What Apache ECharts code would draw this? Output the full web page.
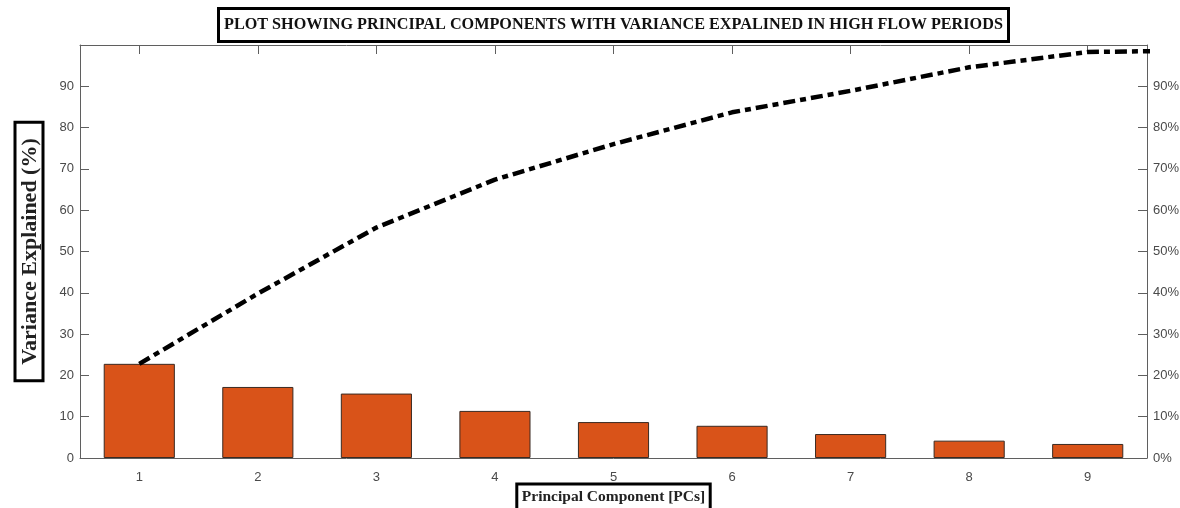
<!DOCTYPE html>
<html>
<head>
<meta charset="utf-8">
<script src="https://cdn.jsdelivr.net/npm/echarts@6/dist/echarts.min.js"></script>
<style>
  html, body { margin: 0; padding: 0; background: #fff; }
  #chart { width: 1180px; height: 508px; }
</style>
</head>
<body>
<div id="chart"></div>
<script>
// Principal components 1..9
const components = ['1', '2', '3', '4', '5', '6', '7', '8', '9'];
// Variance explained by each component (%)
const varianceExplained = [22.8, 17.2, 15.6, 11.4, 8.7, 7.8, 5.8, 4.2, 3.4];
// Cumulative variance explained (%), running past the last shown component
const cumulativeIndex = [1, 2, 3, 4, 5, 6, 7, 8, 9, 10];
const cumulativeVariance = [22.8, 39.8, 55.8, 67.4, 76.0, 83.7, 88.9, 94.6, 98.3, 98.7];
// Left and right axis tick labels
const leftTicks = [0, 10, 20, 30, 40, 50, 60, 70, 80, 90];
const rightTicks = ['0%', '10%', '20%', '30%', '40%', '50%', '60%', '70%', '80%', '90%'];

const axisGrey = '#5f5f5f';
const labelGrey = '#4a4a4a';
const sans = 'Liberation Sans, Arial, sans-serif';
const serif = 'Liberation Serif, Times New Roman, serif';

const chart = echarts.init(document.getElementById('chart'), null, { renderer: 'canvas' });

chart.setOption({
  animation: false,
  backgroundColor: '#ffffff',
  title: {
    text: 'PLOT SHOWING PRINCIPAL COMPONENTS WITH VARIANCE EXPALINED IN HIGH FLOW PERIODS',
    left: 218,
    top: 8,
    padding: [9, 6, 9, 6],
    borderColor: '#000',
    borderWidth: 3,
    textStyle: { fontFamily: serif, fontWeight: 'bold', fontSize: 16.2, color: '#111' }
  },
  grid: { left: 80, right: 33, top: 45, bottom: 50, containLabel: false, outerBoundsMode: 'none' },
  xAxis: [
    {
      type: 'category',
      data: components,
      position: 'bottom',
      boundaryGap: true,
      name: 'Principal Component [PCs]',
      nameLocation: 'middle',
      nameGap: 26,
      nameMoveOverlap: false,
      nameTextStyle: {
        fontFamily: serif, fontWeight: 'bold', fontSize: 15.5, color: '#222',
        borderColor: '#000', borderWidth: 3, padding: [5, 5, 16, 5]
      },
      axisLine: { show: true, onZero: false, lineStyle: { color: axisGrey, width: 1 } },
      axisTick: { show: false },
      axisLabel: { fontFamily: sans, fontSize: 13, color: labelGrey, margin: 13 },
      splitLine: { show: false }
    },
    {
      // frame edge along the top with inward ticks at each component
      type: 'category',
      data: components,
      position: 'top',
      boundaryGap: true,
      axisLine: { show: true, onZero: false, lineStyle: { color: axisGrey, width: 1 } },
      axisTick: { show: true, inside: true, alignWithLabel: true, length: 9, lineStyle: { color: axisGrey } },
      axisLabel: { show: false },
      splitLine: { show: false }
    }
  ],
  yAxis: [
    {
      type: 'value',
      min: 0,
      max: 100,
      interval: 10,
      position: 'left',
      name: 'Variance Explained (%)',
      nameLocation: 'middle',
      nameRotate: 90,
      nameGap: 37,
      nameMoveOverlap: false,
      nameTextStyle: {
        fontFamily: serif, fontWeight: 'bold', fontSize: 22, color: '#222',
        borderColor: '#000', borderWidth: 3, padding: [4, 16, 2, 16]
      },
      axisLine: { show: true, lineStyle: { color: axisGrey, width: 1 } },
      axisTick: { show: true, inside: true, length: 9, lineStyle: { color: axisGrey } },
      axisLabel: {
        fontFamily: sans, fontSize: 13, color: labelGrey, margin: 6,
        showMaxLabel: false,
        formatter: v => leftTicks.includes(v) ? String(v) : ''
      },
      splitLine: { show: false }
    },
    {
      type: 'value',
      min: 0,
      max: 100,
      interval: 10,
      position: 'right',
      axisLine: { show: true, lineStyle: { color: axisGrey, width: 1 } },
      axisTick: { show: true, inside: true, length: 9, lineStyle: { color: axisGrey } },
      axisLabel: {
        fontFamily: sans, fontSize: 13, color: labelGrey, margin: 6,
        showMaxLabel: false,
        formatter: v => rightTicks[leftTicks.indexOf(v)] || ''
      },
      splitLine: { show: false }
    }
  ],
  series: [
    {
      name: 'Variance explained',
      type: 'bar',
      xAxisIndex: 0,
      yAxisIndex: 0,
      data: varianceExplained,
      barWidth: '60%',
      itemStyle: { color: '#D95319', borderColor: '#3a2a22', borderWidth: 1 },
      z: 2
    },
    {
      name: 'Cumulative variance',
      type: 'line',
      xAxisIndex: 0,
      yAxisIndex: 1,
      // category positions are zero-based component indices
      data: cumulativeIndex.map((pc, i) => [pc - 1, cumulativeVariance[i]]),
      smooth: false,
      symbol: 'none',
      clip: true,
      lineStyle: { color: '#000', width: 4.5, type: [12, 5, 6, 5] },
      z: 3
    }
  ]
});
</script>
</body>
</html>
